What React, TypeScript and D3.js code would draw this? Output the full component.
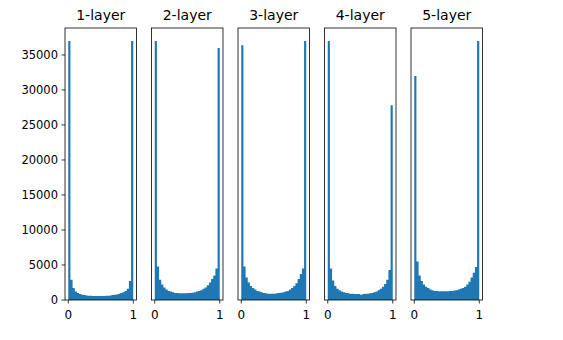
import React from "react";
import * as d3 from "d3";

const titles = ["1-layer", "2-layer", "3-layer", "4-layer", "5-layer"];
const layer1 = [37000, 2900, 1700, 1200, 1000, 850, 750, 700, 650, 620, 600, 580, 580, 570, 570, 570, 580, 600, 620, 650, 700, 750, 800, 900, 1000, 1100, 1300, 1600, 2700, 37000];
const layer2 = [37000, 4800, 2900, 2200, 1800, 1500, 1300, 1200, 1100, 1000, 1000, 950, 950, 950, 950, 1000, 1000, 1050, 1100, 1200, 1300, 1400, 1600, 1800, 2100, 2500, 3000, 3500, 4500, 36000];
const layer3 = [36400, 4800, 3200, 2500, 2000, 1700, 1500, 1300, 1200, 1100, 1000, 950, 900, 900, 900, 900, 950, 1000, 1050, 1100, 1200, 1300, 1500, 1700, 2000, 2400, 3000, 3700, 4500, 37000];
const layer4 = [37000, 4500, 2800, 2000, 1600, 1400, 1200, 1100, 1000, 950, 900, 900, 850, 850, 850, 750, 850, 900, 900, 950, 1000, 1100, 1200, 1400, 1600, 1900, 2300, 2900, 4300, 27800];
const layer5 = [32000, 5500, 3500, 2700, 2200, 1900, 1700, 1500, 1400, 1300, 1300, 1250, 1250, 1250, 1250, 1250, 1300, 1300, 1350, 1400, 1500, 1600, 1700, 1900, 2200, 2600, 3200, 3900, 4700, 37000];
const layers = [layer1, layer2, layer3, layer4, layer5];
const yTicks = [0, 5000, 10000, 15000, 20000, 25000, 30000, 35000];
const xTicks = [0, 1];

const W = 563, H = 340;
const axTop = 28, axBottom = 300;
const firstLeft = 65, step = 86.5, axW = 71.5;
const font = "'DejaVu Sans', sans-serif";
const blue = "#1f77b4";

export default function App() {
  const maxV = d3.max(layers.flat()) as number;
  const y = d3.scaleLinear().domain([0, maxV * 1.05]).range([axBottom, axTop]);
  const nb = 30;
  const edges = d3.range(nb + 1).map((i) => i / nb);
  return (
    <svg width={W} height={H} style={{ position: "absolute", left: 0, top: 0, background: "#fff" }}>
      {layers.map((vals, k) => {
        const left = firstLeft + k * step;
        const x = d3.scaleLinear().domain([-0.05, 1.05]).range([left, left + axW]);
        const pts = edges.map((e, i) => ({ e, v: vals[Math.min(i, nb - 1)] }));
        const area = d3.area<{ e: number; v: number }>()
          .x((d) => x(d.e))
          .y0(axBottom)
          .y1((d) => y(d.v))
          .curve(d3.curveStepAfter);
        return (
          <g key={k}>
            <path d={area(pts) || ""} fill={blue} />
            <rect x={left} y={axTop} width={axW} height={axBottom - axTop} fill="none" stroke="#000" strokeWidth={0.8} />
            <text x={left + axW / 2} y={axTop - 8} textAnchor="middle" fontFamily={font} fontSize={14} fill="#000">{titles[k]}</text>
            {xTicks.map((t) => (
              <g key={t}>
                <line x1={x(t)} x2={x(t)} y1={axBottom} y2={axBottom + 3.5} stroke="#000" strokeWidth={0.8} />
                <text x={x(t)} y={axBottom + 19} textAnchor="middle" fontFamily={font} fontSize={12} fill="#000">{t}</text>
              </g>
            ))}
            {k === 0 && yTicks.map((t) => (
              <g key={t}>
                <line x1={left - 3.5} x2={left} y1={y(t)} y2={y(t)} stroke="#000" strokeWidth={0.8} />
                <text x={left - 7} y={y(t)} dy="0.35em" textAnchor="end" fontFamily={font} fontSize={11.5} fill="#000">{t}</text>
              </g>
            ))}
          </g>
        );
      })}
    </svg>
  );
}
